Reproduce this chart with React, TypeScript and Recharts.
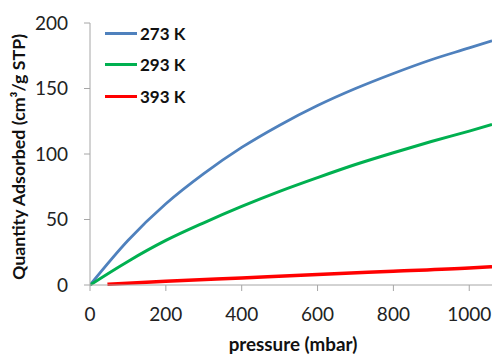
import { LineChart, Line, XAxis, YAxis, Legend, Label } from "recharts";

// 273 K isotherm
const pressure273 = [0, 100, 200, 300, 400, 500, 600, 700, 800, 900, 1000, 1060];
const adsorbed273 = [0, 34, 62, 85, 105, 122, 137, 150, 161.5, 172, 181, 186.5];

// 293 K isotherm
const pressure293 = [0, 100, 200, 300, 400, 500, 600, 700, 800, 900, 1000, 1060];
const adsorbed293 = [0, 18, 34, 47.5, 60, 71.5, 82, 92, 101, 109.5, 117.5, 122.5];

// 393 K isotherm
const pressure393 = [46, 200, 400, 600, 800, 1000, 1060];
const adsorbed393 = [0.6, 2.8, 5.4, 8, 10.5, 13, 14];

const xTicks = [0, 200, 400, 600, 800, 1000];
const yTicks = [0, 50, 100, 150, 200];

const toPoints = (p: number[], q: number[]) => p.map((x, i) => ({ p: x, q: q[i] }));

const series = [
  { name: "273 K", color: "#4f81bd", width: 2.75, data: toPoints(pressure273, adsorbed273) },
  { name: "293 K", color: "#00b050", width: 3, data: toPoints(pressure293, adsorbed293) },
  { name: "393 K", color: "#ff0000", width: 3.5, data: toPoints(pressure393, adsorbed393) },
];

const font = "Lato, 'Open Sans', sans-serif";
const axisGray = "#a6a6a6";

function LegendBox({ payload }: any) {
  return (
    <div style={{ fontFamily: font, fontWeight: 700, fontSize: 17, color: "#111" }}>
      {(payload || []).map((entry: any) => (
        <div key={entry.value} style={{ display: "flex", alignItems: "center", height: 31.3 }}>
          <span style={{ display: "inline-block", width: 32, height: 3, background: entry.color, marginRight: 3 }} />
          <span>{entry.value}</span>
        </div>
      ))}
    </div>
  );
}

function YTitle({ viewBox }: any) {
  const x = viewBox.x + 18;
  const y = viewBox.y + viewBox.height / 2 + 3;
  return (
    <text
      x={x}
      y={y}
      transform={`rotate(-90 ${x} ${y})`}
      textAnchor="middle"
      dominantBaseline="central"
      fontFamily={font}
      fontWeight={700}
      fontSize={17.8}
      fill="#111"
    >
      Quantity Adsorbed (cm³/g STP)
    </text>
  );
}

export default function App() {
  return (
    <div style={{ position: "absolute", left: 0, top: 0, width: 493, height: 355, background: "#fff" }}>
      <LineChart width={493} height={355} margin={{ top: 23, right: 1, left: 0, bottom: 0 }}>
        <XAxis
          dataKey="p"
          type="number"
          domain={[0, 1060]}
          ticks={xTicks}
          allowDataOverflow
          height={70}
          tickSize={6}
          tickMargin={17}
          stroke={axisGray}
          tick={{ fill: "#222", fontSize: 19, fontFamily: font }}
        >
          <Label
            value="pressure (mbar)"
            position="insideBottom"
            offset={4}
            dx={2}
            fill="#111"
            fontSize={18.8}
            fontWeight={700}
            fontFamily={font}
          />
        </XAxis>
        <YAxis
          type="number"
          domain={[0, 200]}
          ticks={yTicks}
          width={90}
          tickSize={6}
          tickMargin={16}
          stroke={axisGray}
          tick={{ fill: "#222", fontSize: 19, fontFamily: font }}
        >
          <Label content={<YTitle />} />
        </YAxis>
        <Legend
          layout="vertical"
          align="center"
          verticalAlign="middle"
          wrapperStyle={{ left: 105, top: 18 }}
          content={<LegendBox />}
        />
        {series.map((s) => (
          <Line
            key={s.name}
            data={s.data}
            dataKey="q"
            name={s.name}
            type="monotone"
            stroke={s.color}
            strokeWidth={s.width}
            dot={false}
            activeDot={false}
            isAnimationActive={false}
          />
        ))}
      </LineChart>
    </div>
  );
}
